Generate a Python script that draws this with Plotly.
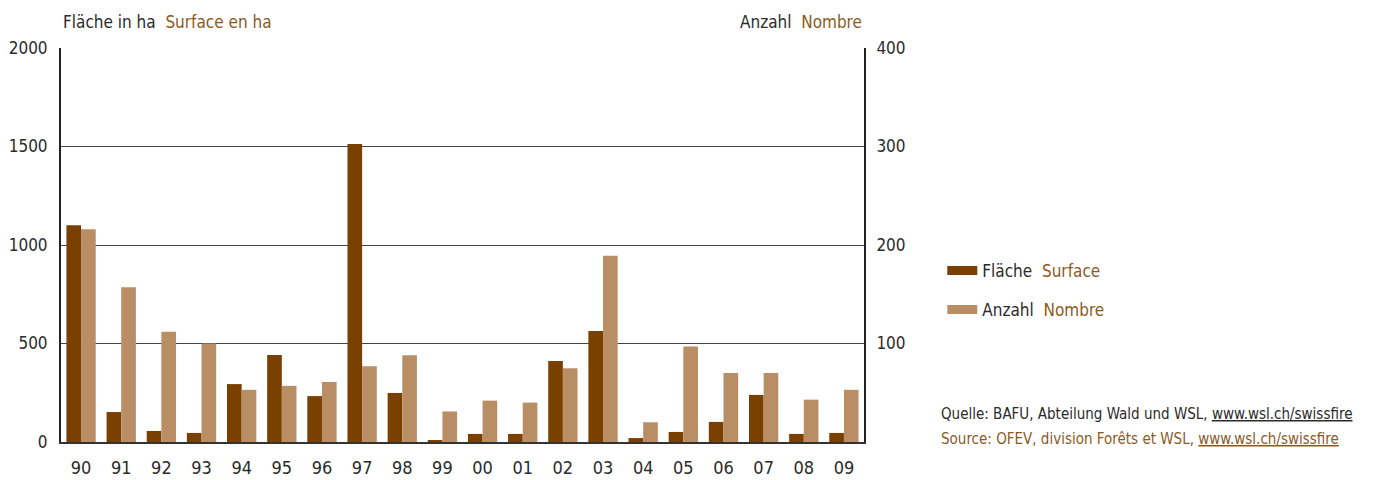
import plotly.graph_objects as go

years = ["90", "91", "92", "93", "94", "95", "96", "97", "98", "99",
         "00", "01", "02", "03", "04", "05", "06", "07", "08", "09"]
flaeche_ha = [1100, 152, 56, 46, 294, 441, 233, 1513, 249, 8,
              41, 41, 411, 563, 20, 51, 102, 239, 41, 46]
anzahl = [216, 157, 112, 100, 53, 57, 61, 77, 88, 31,
          42, 40, 75, 189, 20, 97, 70, 70, 43, 53]
left_ticks = [0, 500, 1000, 1500, 2000]
right_ticks = [100, 200, 300, 400]

DARK = "#7A4000"
LIGHT = "#BA8E64"
BROWN_TXT = "#8C5A1C"
GREY_TXT = "#2b2b2b"
FONT = "Liberation Sans Narrow, DejaVu Sans Condensed, Arial Narrow, sans-serif"

fig = go.Figure()
fig.add_trace(go.Bar(x=years, y=flaeche_ha, marker_color=DARK, marker_line_width=0,
                     offsetgroup="a", yaxis="y", showlegend=False, name="Fläche"))
fig.add_trace(go.Bar(x=years, y=anzahl, marker_color=LIGHT, marker_line_width=0,
                     offsetgroup="b", yaxis="y2", showlegend=False, name="Anzahl"))
# legend entries
fig.add_trace(go.Scatter(x=[None], y=[None], mode="lines", line=dict(color=DARK, width=9),
                         legendgroup="g1",
                         name=f"Fläche  <span style='color:{BROWN_TXT}'>Surface</span>"))
fig.add_trace(go.Scatter(x=[None], y=[None], mode="lines", line=dict(color=LIGHT, width=9),
                         legendgroup="g2",
                         name=f"Anzahl  <span style='color:{BROWN_TXT}'>Nombre</span>"))

# page body has an 8px margin, so the figure is 8px smaller and shifted
fig.update_layout(
    width=1368, height=472,
    margin=dict(l=53, r=512, t=40, b=38, autoexpand=False),
    plot_bgcolor="white", paper_bgcolor="white",
    font=dict(family=FONT, size=18, color=GREY_TXT),
    barmode="group", bargap=0.27, bargroupgap=0,
    xaxis=dict(type="category", showline=True, linecolor="#333", linewidth=2,
               showgrid=False, ticks="", ticklabelstandoff=8, automargin=False,
               tickfont=dict(size=18)),
    yaxis=dict(range=[0, 2000], tickvals=left_ticks, showgrid=True, gridcolor="#444",
               gridwidth=1, showline=True, linecolor="#222", linewidth=2,
               ticks="", ticklabelstandoff=8, zeroline=False, automargin=False,
               tickfont=dict(size=17)),
    yaxis2=dict(range=[0, 400], tickvals=right_ticks, overlaying="y", side="right",
                showgrid=False, showline=True, linecolor="#222", linewidth=2,
                ticks="", ticklabelstandoff=7, zeroline=False, automargin=False,
                tickfont=dict(size=17)),
    legend=dict(x=1.0975, y=0.48, xanchor="left", yanchor="top",
                font=dict(family=FONT, size=17, color=GREY_TXT),
                traceorder="grouped", tracegroupgap=14, bgcolor="rgba(0,0,0,0)"),
    annotations=[
        dict(xref="paper", yref="paper", x=0, y=1.066, xanchor="left", yanchor="middle",
             showarrow=False, font=dict(size=17, color=GREY_TXT),
             text=f"Fläche in ha  <span style='color:{BROWN_TXT}'>Surface en ha</span>"),
        dict(xref="paper", yref="paper", x=1.0, y=1.066, xanchor="right", yanchor="middle",
             showarrow=False, font=dict(size=17, color=GREY_TXT),
             text=f"Anzahl  <span style='color:{BROWN_TXT}'>Nombre</span>"),
        dict(xref="paper", yref="paper", x=1.0934, y=0.071, xanchor="left", yanchor="middle",
             showarrow=False, font=dict(size=15, color=GREY_TXT),
             text="Quelle: BAFU, Abteilung Wald und WSL, <u>www.wsl.ch/swissfire</u>"),
        dict(xref="paper", yref="paper", x=1.0934, y=0.0076, xanchor="left", yanchor="middle",
             showarrow=False, font=dict(size=15, color=BROWN_TXT),
             text="Source: OFEV, division Forêts et WSL, <u>www.wsl.ch/swissfire</u>"),
    ],
)

fig.write_html("out.html")
